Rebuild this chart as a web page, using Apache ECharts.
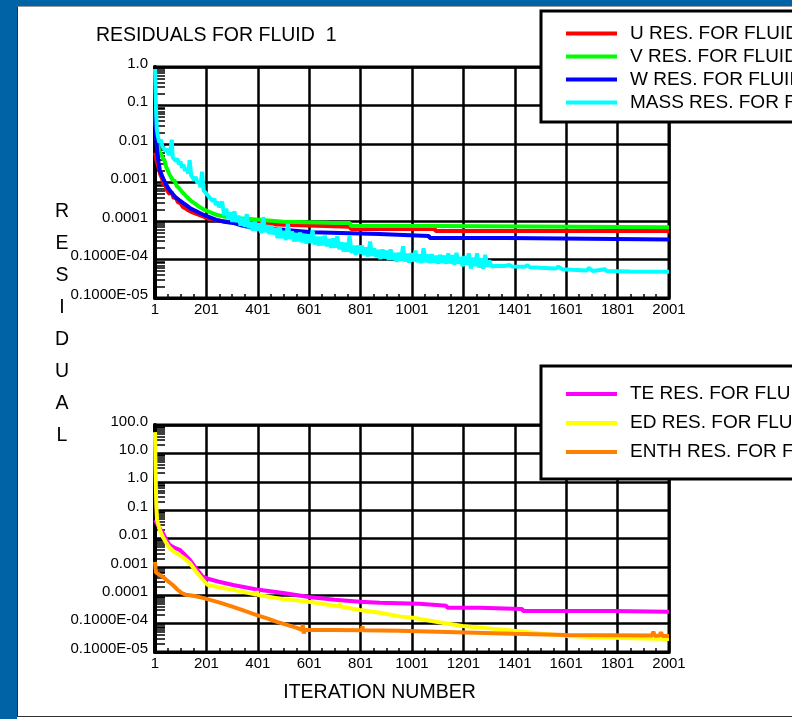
<!DOCTYPE html>
<html><head><meta charset="utf-8">
<script src="https://cdn.jsdelivr.net/npm/echarts@6/dist/echarts.min.js"></script>
<style>
html,body{margin:0;padding:0;width:792px;height:719px;overflow:hidden;background:#0063A6;}
#panel{position:absolute;left:17px;top:6px;width:775px;height:710px;background:#fff;border-left:1px solid #2a2a2a;border-top:1px solid #9a9a9a;box-sizing:border-box;}
#foot{position:absolute;left:17px;top:716px;width:775px;height:3px;background:#fff;border-top:1px solid #333;box-sizing:border-box;}
#chart{position:absolute;left:0;top:0;width:792px;height:719px;}
</style></head><body>
<div id="panel"></div><div id="foot"></div><div id="chart"></div>
<script>
// ---- axis ticks / labels ----
const topYTicks = [1, 0.1, 0.01, 0.001, 0.0001, 1e-5, 1e-6];
const topYLabels = ['1.0', '0.1', '0.01', '0.001', '0.0001', '0.1000E-04', '0.1000E-05'];
const botYTicks = [100, 10, 1, 0.1, 0.01, 0.001, 0.0001, 1e-5, 1e-6];
const botYLabels = ['100.0', '10.0', '1.0', '0.1', '0.01', '0.001', '0.0001', '0.1000E-04', '0.1000E-05'];
const minorFactors = [2, 3, 4, 5, 6, 7, 8, 9];

// ---- series names ----
const topNames = ['U RES. FOR FLUID  1', 'V RES. FOR FLUID  1', 'W RES. FOR FLUID  1', 'MASS RES. FOR FLUID  1'];
const botNames = ['TE RES. FOR FLUID  1', 'ED RES. FOR FLUID  1', 'ENTH RES. FOR FLUID  1'];

// ---- data: [iteration, residual] ----
const uRes = [[1,6e-3],[8,3.5e-3],[15,2.4e-3],[22,1.6e-3],[28,1.3e-3],[34,8.5e-4],[40,1.0e-3],[46,6.5e-4],[52,7.2e-4],[58,5.0e-4],[66,5.6e-4],[74,3.9e-4],[82,4.1e-4],[90,3.1e-4],[100,2.9e-4],[110,2.3e-4],[125,2.0e-4],[140,1.75e-4],[155,1.6e-4],[175,1.42e-4],[195,1.25e-4],[215,1.12e-4],[260,1.0e-4],[305,9.3e-5],[370,8.8e-5],[500,8.0e-5],[760,7.1e-5],[763,6.2e-5],[1090,6.2e-5],[1093,5.5e-5],[2001,5.5e-5]];
const vRes = [[1,8e-2],[4,3e-2],[8,1.3e-2],[14,8e-3],[20,6e-3],[26,5.2e-3],[31,4.3e-3],[38,3.8e-3],[44,2.6e-3],[50,2.4e-3],[56,1.7e-3],[62,1.6e-3],[70,1.15e-3],[78,1.1e-3],[86,8e-4],[94,7.2e-4],[102,6.2e-4],[110,5.4e-4],[125,4.2e-4],[140,3.4e-4],[158,2.8e-4],[175,2.3e-4],[190,2.0e-4],[210,1.75e-4],[240,1.45e-4],[270,1.3e-4],[305,1.2e-4],[370,1.12e-4],[500,9.6e-5],[680,9.0e-5],[760,8.9e-5],[763,7.4e-5],[1109,7.4e-5],[1112,6.9e-5],[2001,6.9e-5]];
const wRes = [[1,9e-2],[3,3.5e-2],[5,1.6e-2],[10,6e-3],[15,3.3e-3],[20,2.1e-3],[30,1.4e-3],[40,1.0e-3],[50,7.6e-4],[58,6.3e-4],[70,5.0e-4],[80,4.2e-4],[95,3.5e-4],[110,2.95e-4],[125,2.5e-4],[140,2.1e-4],[158,1.85e-4],[175,1.62e-4],[200,1.35e-4],[240,1.07e-4],[270,9.6e-5],[305,8.9e-5],[340,7.6e-5],[370,6.9e-5],[430,6.4e-5],[500,5.9e-5],[612,5.1e-5],[615,4.6e-5],[873,4.6e-5],[876,4.1e-5],[1067,4.1e-5],[1070,3.6e-5],[1371,3.6e-5],[1374,3.3e-5],[2001,3.3e-5]];
const massRes = [[1,8.9e-1],[3,2.5e-1],[5,7.9e-2],[8,2.5e-2],[12,1.6e-2],[18,1.1e-2],[24,1.3e-2],[30,8.5e-3],[36,9.5e-3],[42,6.5e-3],[48,7.5e-3],[54,5.2e-3],[60,6.0e-3],[66,1.3e-2],[70,4.5e-3],[76,5.0e-3],[82,3.6e-3],[88,4.2e-3],[94,3.0e-3],[100,3.5e-3],[106,2.4e-3],[112,2.9e-3],[118,2.0e-3],[124,2.4e-3],[130,1.7e-3],[136,3.8e-3],[142,1.5e-3],[148,1.6e-3],[154,1.15e-3],[160,1.4e-3],[166,9.5e-4],[172,1.1e-3],[178,7.5e-4],[184,1.9e-3],[190,6.3e-4],[196,7.0e-4],[202,5.0e-4],[208,5.6e-4],[214,4.0e-4],[220,4.5e-4],[226,3.3e-4],[232,3.8e-4],[238,2.6e-4],[244,3.2e-4],[250,2.3e-4],[256,2.6e-4],
[262,3.2e-4],[270,1.41e-4],[278,2.1e-4],[286,1.15e-4],[294,1.66e-4],[302,9.5e-5],[310,1.78e-4],[318,9.3e-5],[326,1.38e-4],[334,7.6e-5],[342,1.2e-4],[350,7.1e-5],[358,1.51e-4],[366,6.5e-5],[374,9.5e-5],[382,5.6e-5],[390,9.8e-5],[398,5.6e-5],[406,8.7e-5],[414,4.9e-5],[422,1.26e-4],[430,5.1e-5],[438,7.8e-5],[446,4.6e-5],[454,7.6e-5],[462,4.5e-5],[470,6.6e-5],[478,3.6e-5],[486,6.9e-5],[494,3.6e-5],[502,5.5e-5],[510,3.2e-5],[518,8.5e-5],[526,3.4e-5],[534,5.4e-5],[542,2.95e-5],[550,4.8e-5],[558,3.0e-5],[566,5.0e-5],[574,2.8e-5],[582,4.5e-5],[590,2.6e-5],[598,4.5e-5],[606,2.7e-5],[614,5.8e-5],[622,2.45e-5],[630,3.9e-5],[638,2.3e-5],[646,3.9e-5],[654,2.35e-5],[662,4.1e-5],[670,2.2e-5],[678,3.4e-5],[686,2.0e-5],[694,3.5e-5],[702,2.05e-5],[710,4.0e-5],[718,1.86e-5],[726,2.8e-5],[734,1.62e-5],[742,2.75e-5],[750,1.62e-5],[758,4.1e-5],[766,1.48e-5],[774,2.3e-5],[782,1.32e-5],[790,2.3e-5],[798,1.41e-5],[806,2.3e-5],[814,1.32e-5],[822,2.05e-5],[830,1.2e-5],[838,2.95e-5],[846,1.23e-5],[854,1.95e-5],[862,1.15e-5],[870,1.78e-5],[878,1.02e-5],[886,1.82e-5],[894,1.07e-5],[902,1.7e-5],[910,9.8e-6],[918,1.82e-5],[926,9.8e-6],[934,1.48e-5],[942,8.7e-6],[950,1.51e-5],[958,9.3e-6],[966,2.2e-5],[974,8.9e-6],[982,1.41e-5],[990,8.3e-6],[998,1.45e-5],[1006,8.9e-6],[1014,1.7e-5],[1022,8.5e-6],[1030,1.35e-5],[1038,8.1e-6],[1046,1.95e-5],[1054,8.5e-6],[1062,1.35e-5],[1070,8.1e-6],[1078,1.38e-5],[1086,8.3e-6],[1094,1.26e-5],[1102,7.8e-6],[1110,1.32e-5],[1118,8.1e-6],[1126,1.26e-5],[1134,7.8e-6],[1142,1.45e-5],[1150,7.9e-6],[1158,1.29e-5],[1166,7.4e-6],[1174,1.48e-5],[1182,7.8e-6],[1190,1.17e-5],[1198,6.6e-6],[1206,1.23e-5],[1214,7.4e-6],[1222,1.45e-5],[1230,5.8e-6],[1238,1.12e-5],[1246,6.8e-6],[1254,1.45e-5],[1262,6.2e-6],[1270,1.07e-5],[1278,5.8e-6],[1286,1.32e-5],[1294,6.5e-6],[1302,9.5e-6],[1310,6.6e-6],[1330,6.9e-6],[1360,6.8e-6],[1380,7.2e-6],[1390,6.6e-6],[1440,6.5e-6],[1450,7.1e-6],[1460,6.3e-6],[1560,5.8e-6],[1570,6.5e-6],[1585,5.6e-6],[1680,5.2e-6],[1690,6.0e-6],[1705,5.0e-6],[1750,5.6e-6],[1760,5.0e-6],[1850,4.9e-6],[2001,4.8e-6]];

const teRes = [[1,4.5e-2],[10,3.2e-2],[20,2.2e-2],[31,1.6e-2],[45,9e-3],[58,5.9e-3],[75,4.8e-3],[97,4.0e-3],[115,2.8e-3],[136,1.8e-3],[160,9e-4],[187,4.5e-4],[207,3.8e-4],[250,3.0e-4],[305,2.3e-4],[397,1.6e-4],[500,1.2e-4],[600,8.7e-5],[700,7.0e-5],[798,5.9e-5],[876,5.4e-5],[1030,5.0e-5],[1033,4.3e-5],[1135,4.3e-5],[1138,3.6e-5],[1263,3.6e-5],[1266,3.3e-5],[1430,3.3e-5],[1433,2.8e-5],[1780,2.8e-5],[1783,2.6e-5],[2001,2.6e-5]];
const edRes = [[1,56],[3,3],[6,0.15],[9,4.5e-2],[20,2.0e-2],[31,1.15e-2],[45,7e-3],[58,4.7e-3],[75,3.4e-3],[97,2.6e-3],[115,2.0e-3],[136,1.4e-3],[160,7e-4],[187,3.5e-4],[207,2.3e-4],[250,1.9e-4],[305,1.55e-4],[395,1.05e-4],[398,1.4e-4],[401,1.02e-4],[500,7.3e-5],[600,5.9e-5],[700,4.3e-5],[718,4.1e-5],[721,5.4e-5],[724,4.0e-5],[798,3.0e-5],[876,2.4e-5],[953,1.8e-5],[1005,1.6e-5],[1100,1.15e-5],[1198,8.3e-6],[1300,6.8e-6],[1397,5.6e-6],[1500,4.5e-6],[1605,3.7e-6],[1700,3.4e-6],[1782,3.2e-6],[2001,2.9e-6]];
const enthRes = [[1,1.5e-3],[3,9e-4],[5,6.3e-4],[20,5.2e-4],[31,4.5e-4],[50,3.2e-4],[70,2.3e-4],[88,1.6e-4],[105,1.2e-4],[120,1.05e-4],[136,1.0e-4],[160,9.2e-5],[187,8.1e-5],[250,5.6e-5],[305,3.9e-5],[350,2.8e-5],[397,2.0e-5],[440,1.5e-5],[475,1.15e-5],[515,9e-6],[553,7.1e-6],[572,6.0e-6],[576,9.0e-6],[580,4.5e-6],[584,6.0e-6],[694,6.0e-6],[805,5.8e-6],[808,8.0e-6],[811,5.8e-6],[953,5.6e-6],[1137,5.1e-6],[1397,4.4e-6],[1605,4.0e-6],[1935,3.8e-6],[1940,5.2e-6],[1946,3.7e-6],[1965,3.8e-6],[1970,5.0e-6],[1975,3.7e-6],[2001,3.7e-6]];

const FONT = '"Liberation Sans", Arial, Helvetica, sans-serif';

function labelFmt(ticks, labels) {
  return function (v) {
    for (let i = 0; i < ticks.length; i++) {
      if (Math.abs(Math.log10(ticks[i]) - Math.log10(v)) < 1e-6) return labels[i];
    }
    return '';
  };
}
function minorValues(ticks) {
  const out = [];
  const hi = Math.max.apply(null, ticks);
  ticks.forEach(function (t) {
    if (t === hi) return;
    minorFactors.forEach(function (f) { out.push(f * t); });
  });
  return out;
}

function xAxis(grid, name) {
  const ax = {
    type: 'value', gridIndex: grid, min: 1, max: 2001, interval: 200,
    axisLine: { show: true, onZero: false, lineStyle: { color: '#000', width: 3 } },
    axisTick: { show: false, inside: true },
    minorTick: { show: true, splitNumber: 4, length: 4, lineStyle: { color: '#000', width: 1.5 } },
    splitLine: { show: true, lineStyle: { color: '#000', width: 2.5 } },
    axisLabel: { color: '#000', fontSize: 15, fontFamily: FONT, margin: 4, showMinLabel: true, showMaxLabel: true,
                 formatter: function (v) { return String(Math.round(v)); } }
  };
  if (name) {
    ax.name = name; ax.nameLocation = 'middle'; ax.nameGap = 31;
    ax.nameTextStyle = { color: '#000', fontSize: 19.5, fontFamily: FONT, lineHeight: 20, padding: [0, 65, 0, 0] };
  }
  return ax;
}
function yAxisMain(grid, ticks, labels) {
  return {
    type: 'log', logBase: 10, gridIndex: grid, min: Math.min.apply(null, ticks), max: Math.max.apply(null, ticks),
    splitNumber: ticks.length - 1,
    axisLine: { show: true, lineStyle: { color: '#000', width: 4 } },
    axisTick: { show: false },
    splitLine: { show: true, lineStyle: { color: '#000', width: 2.5 } },
    axisLabel: { color: '#000', fontSize: 15, fontFamily: FONT, margin: 7, verticalAlign: 'bottom', lineHeight: 7,
                 formatter: labelFmt(ticks, labels) }
  };
}
function yAxisMinor(grid, ticks) {
  return {
    type: 'log', logBase: 10, gridIndex: grid, position: 'left', min: Math.min.apply(null, ticks), max: Math.max.apply(null, ticks),
    axisLine: { show: false },
    axisTick: { show: true, inside: true, length: 10, customValues: minorValues(ticks), lineStyle: { color: '#000', width: 1.5 } },
    splitLine: { show: false },
    axisLabel: { show: false }
  };
}
function line(name, data, color, xi, yi) {
  return {
    name: name, type: 'line', data: data, xAxisIndex: xi, yAxisIndex: yi,
    showSymbol: false, symbol: 'none', clip: true, animation: false,
    lineStyle: { color: color, width: 4 }, itemStyle: { color: color }
  };
}
function legend(names, top, gap, pad) {
  return {
    data: names, orient: 'vertical', left: 541, top: top, itemWidth: 51, itemHeight: 4, itemGap: gap,
    icon: 'rect', backgroundColor: '#fff', borderColor: '#000', borderWidth: 3, borderRadius: 0,
    padding: pad, selectedMode: false,
    textStyle: { color: '#000', fontSize: 19, fontFamily: FONT, lineHeight: 13, padding: [0, 0, 10, 8] }
  };
}

const chart = echarts.init(document.getElementById('chart'), null, { renderer: 'canvas' });
chart.setOption({
  backgroundColor: 'transparent',
  animation: false,
  title: [{ text: 'RESIDUALS FOR FLUID  1', left: 96, top: 25, padding: 0,
            textStyle: { color: '#000', fontSize: 19.5, fontWeight: 'normal', fontFamily: FONT, lineHeight: 22 } }],
  graphic: [{ type: 'text', x: 62, y: 196, silent: true,
              style: { text: 'R\nE\nS\nI\nD\nU\nA\nL', fill: '#000', font: '19.5px ' + FONT, align: 'center', verticalAlign: 'top', lineHeight: 31.9 } }],
  legend: [legend(topNames, 11, 0, [11, 300, 8, 25]), legend(botNames, 366, 6, [16.5, 300, 15.5, 25])],
  grid: [
    { left: 155, top: 67, width: 514, height: 231, show: true, borderColor: '#000', borderWidth: 3, backgroundColor: 'transparent', containLabel: false, outerBoundsMode: 'none' },
    { left: 155, top: 425, width: 514, height: 227, show: true, borderColor: '#000', borderWidth: 3, backgroundColor: 'transparent', containLabel: false, outerBoundsMode: 'none' }
  ],
  xAxis: [xAxis(0), xAxis(1, 'ITERATION NUMBER')],
  yAxis: [yAxisMain(0, topYTicks, topYLabels), yAxisMain(1, botYTicks, botYLabels), yAxisMinor(0, topYTicks), yAxisMinor(1, botYTicks)],
  series: [
    line(topNames[0], uRes, '#FF0000', 0, 0),
    line(topNames[1], vRes, '#00FF00', 0, 0),
    line(topNames[2], wRes, '#0000FF', 0, 0),
    line(topNames[3], massRes, '#00FFFF', 0, 0),
    line(botNames[0], teRes, '#FF00FF', 1, 1),
    line(botNames[1], edRes, '#FFFF00', 1, 1),
    line(botNames[2], enthRes, '#FF8000', 1, 1)
  ]
});
</script>
</body></html>
